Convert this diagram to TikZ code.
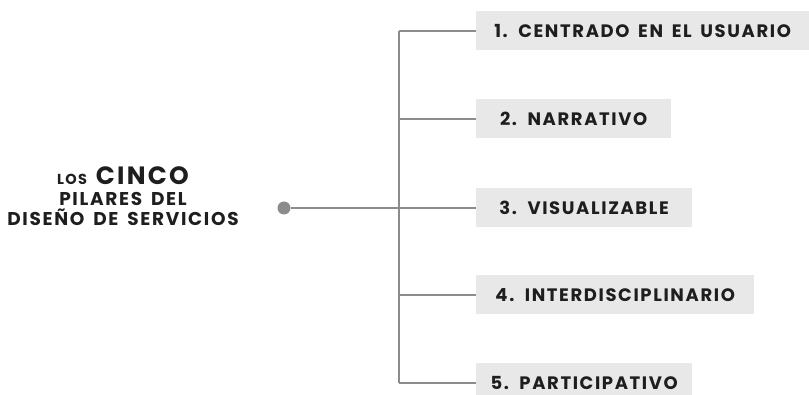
\documentclass[tikz,border=0pt]{standalone}
\usepackage{fontspec}
\setmainfont{Poppins}
\newfontfamily\pilarfont{Poppins}[LetterSpace=9,WordSpace=1.6]
\definecolor{linegray}{HTML}{8C8C8C}
\definecolor{boxgray}{HTML}{E8E8E8}
\definecolor{textblack}{HTML}{1E1E1E}
\begin{document}
\begin{tikzpicture}[x=1pt,y=-1pt,
  linea/.style={draw=linegray,line width=2pt},
  pilar/.style={fill=boxgray,text=textblack,anchor=west,inner sep=0pt,
    minimum height=39pt,font=\pilarfont\bfseries\fontsize{18}{18}\selectfont}]
  \useasboundingbox (0,0) rectangle (809,395);

  \node (titulo) at (123,226) [anchor=base,align=center,text=textblack,
    font=\pilarfont\bfseries\fontsize{18.5}{20.5}\selectfont]
    {{\fontsize{14.5}{12}\selectfont LOS} {\fontsize{25}{20}\selectfont CINCO}\\
     PILARES DEL\\DISEÑO DE SERVICIOS};
  \node (punto) at (284,208) [circle,fill=linegray,inner sep=0pt,minimum size=13pt] {};

  \node (p1) at (476,31) [pilar,minimum width=333pt] {1. CENTRADO EN EL USUARIO};
  \node (p2) at (476,119) [pilar,minimum width=195pt] {2. NARRATIVO};
  \node (p3) at (476,208) [pilar,minimum width=216pt] {3. VISUALIZABLE};
  \node (p4) at (476,295) [pilar,minimum width=278pt] {4. INTERDISCIPLINARIO};
  \node (p5) at (476,383) [pilar,minimum width=216pt] {5. PARTICIPATIVO};

  \coordinate (r1) at (399,31);
  \coordinate (r2) at (399,119);
  \coordinate (r5) at (399,383);
  \coordinate (r4) at (399,295);

  \draw[linea] (r1) -- (r5);
  \draw[linea] (punto) -- (p3.west);
  \draw[linea] (r1) -- (p1.west);
  \draw[linea] (r2) -- (p2.west);
  \draw[linea] (r4) -- (p4.west);
  \draw[linea] (r5) -- (p5.west);
\end{tikzpicture}
\end{document}
